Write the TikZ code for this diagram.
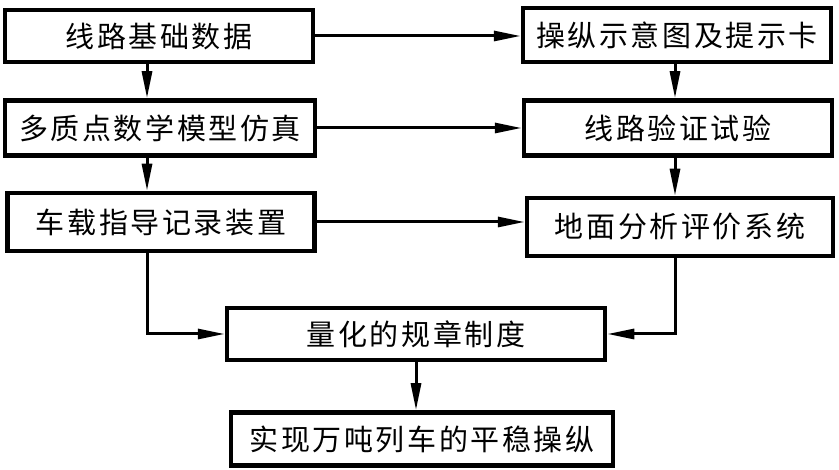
\documentclass[tikz,border=0pt]{standalone}
\usepackage{fontspec}
\newfontfamily\cjk[LetterSpace=9]{Noto Sans CJK SC}
\usetikzlibrary{arrows.meta}
\begin{document}
\begin{tikzpicture}[x=1pt, y=-1pt,
        block/.style={rectangle, draw, line width=4.5pt, inner sep=0pt,
            font=\cjk\fontsize{29pt}{29pt}\selectfont},
        flow/.style={draw, line width=3pt, -{Triangle[length=27pt, width=10pt]}}]
        \useasboundingbox (0,0) rectangle (839,470);
        \node[style=block, minimum width=308pt, minimum height=52pt] (line)   at (159, 36)  {线路基础数据};
        \node[style=block, minimum width=310pt, minimum height=55pt] (sim)    at (160, 128) {多质点数学模型仿真};
        \node[style=block, minimum width=307pt, minimum height=58pt] (rec)    at (161, 222) {车载指导记录装置};
        \node[style=block, minimum width=308pt, minimum height=54pt] (card)   at (677, 35)  {操纵示意图及提示卡};
        \node[style=block, minimum width=308pt, minimum height=55pt] (test)   at (678, 128) {线路验证试验};
        \node[style=block, minimum width=306pt, minimum height=58pt] (ground) at (680, 227) {地面分析评价系统};
        \node[style=block, minimum width=378pt, minimum height=52pt] (rule)   at (416, 334) {量化的规章制度};
        \node[style=block, minimum width=382pt, minimum height=53pt] (goal)   at (422, 439) {实现万吨列车的平稳操纵};
        \coordinate (lx) at (147, 0);
        \coordinate (rx) at (675, 0);

        \path[every edge/.append style={flow}]
            (line.south -| lx) edge (sim.north -| lx)
            (sim.south -| lx) edge (rec.north -| lx)
            (line.east) edge (line.east -| card.west)
            (sim.east) edge (sim.east -| test.west)
            (rec.east) edge (rec.east -| ground.west)
            (card.south -| rx) edge (test.north -| rx)
            (test.south -| rx) edge (ground.north -| rx)
            (rule.south) edge (rule.south |- goal.north)
        ;
        \draw[style=flow] (rec.south -| lx) |- (rule.west);
        \draw[style=flow] (ground.south -| rx) |- (rule.east);
    \end{tikzpicture}
\end{document}
